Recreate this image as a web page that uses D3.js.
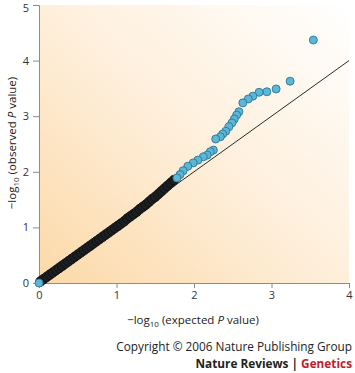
<!DOCTYPE html>
<html>
<head>
<meta charset="utf-8">
<script src="https://cdn.jsdelivr.net/npm/d3@7"></script>
<style>
  body { margin: 0; background: #fff; }
  svg { display: block; font-family: "Open Sans", sans-serif; }
</style>
</head>
<body>
<div id="chart"></div>
<script>
// dense part of the QQ plot (overlapping points, appears as a dark band)
var bandExpected = [0.02, 0.06, 0.10, 0.14, 0.18, 0.22, 0.26, 0.30, 0.34, 0.38, 0.42, 0.46, 0.50,
  0.54, 0.58, 0.62, 0.66, 0.70, 0.74, 0.78, 0.82, 0.86, 0.90, 0.94, 0.98, 1.02, 1.06, 1.10,
  1.14, 1.18, 1.22, 1.26, 1.30, 1.34, 1.38, 1.42, 1.46, 1.50, 1.54, 1.58, 1.62, 1.66, 1.70, 1.74];
var bandObserved = [0.03, 0.07, 0.11, 0.15, 0.19, 0.23, 0.27, 0.31, 0.35, 0.39, 0.43, 0.47, 0.51,
  0.55, 0.59, 0.63, 0.67, 0.71, 0.75, 0.79, 0.83, 0.87, 0.91, 0.95, 0.99, 1.03, 1.07, 1.11,
  1.16, 1.20, 1.24, 1.28, 1.33, 1.37, 1.41, 1.46, 1.51, 1.55, 1.60, 1.65, 1.70, 1.75, 1.80, 1.85];

// sparse tail of the QQ plot (distinct blue points)
var tailExpected = [0.00, 1.78, 1.82, 1.86, 1.92, 1.99, 2.05, 2.12, 2.17, 2.21, 2.25, 2.28, 2.34, 2.37,
  2.41, 2.45, 2.49, 2.52, 2.55, 2.58, 2.63, 2.70, 2.76, 2.84, 2.94, 3.06, 3.24, 3.54];
var tailObserved = [0.00, 1.89, 1.95, 2.02, 2.10, 2.16, 2.21, 2.27, 2.30, 2.36, 2.39, 2.59, 2.63, 2.68,
  2.73, 2.81, 2.88, 2.95, 3.02, 3.08, 3.24, 3.31, 3.36, 3.43, 3.44, 3.49, 3.63, 4.37];

var xTicks = [0, 1, 2, 3, 4];
var yTicks = [0, 1, 2, 3, 4, 5];

var W = 355, H = 373;
var svg = d3.select("#chart").append("svg")
  .attr("width", W).attr("height", H);

var x = d3.scaleLinear().domain([0, 4]).range([39, 349]);
var y = d3.scaleLinear().domain([0, 5]).range([283, 5]);

// background gradient
var defs = svg.append("defs");
var grad = defs.append("linearGradient").attr("id", "bg")
  .attr("x1", 0).attr("y1", 1).attr("x2", 1).attr("y2", 0);
grad.append("stop").attr("offset", 0).attr("stop-color", "#fcd9a8");
grad.append("stop").attr("offset", 0.5).attr("stop-color", "#feefdb");
grad.append("stop").attr("offset", 1).attr("stop-color", "#ffffff");

svg.append("rect")
  .attr("x", x(0)).attr("y", y(5))
  .attr("width", x(4) - x(0)).attr("height", y(0) - y(5))
  .attr("fill", "url(#bg)");

// axes
var xAxis = svg.append("g")
  .attr("transform", "translate(0," + y(0) + ")")
  .call(d3.axisBottom(x).tickValues(xTicks).tickSize(5).tickPadding(3).tickFormat(d3.format("d")));
var yAxis = svg.append("g")
  .attr("transform", "translate(" + x(0) + ",0)")
  .call(d3.axisLeft(y).tickValues(yTicks).tickSize(6).tickPadding(4).tickFormat(d3.format("d")));

[xAxis, yAxis].forEach(function (a) {
  a.select(".domain").attr("stroke", "#8c8c8c");
  a.selectAll(".tick line").attr("stroke", "#8c8c8c");
  a.selectAll(".tick text").attr("fill", "#333").style("font-size", "11px")
    .style("font-family", "Open Sans, sans-serif");
});
// top label sits a little below its tick so it stays inside the frame
yAxis.selectAll(".tick text").filter(function (d) { return d === 5; }).attr("dy", "0.62em");

// y = x reference line
svg.append("line")
  .attr("x1", x(0)).attr("y1", y(0))
  .attr("x2", x(4)).attr("y2", y(4))
  .attr("stroke", "#2a2a2a").attr("stroke-width", 1);

// dense band
svg.append("g").selectAll("circle")
  .data(d3.range(bandExpected.length))
  .join("circle")
  .attr("cx", function (i) { return x(bandExpected[i]); })
  .attr("cy", function (i) { return y(bandObserved[i]); })
  .attr("r", 4.8)
  .attr("fill", "#1c1f22")
  .attr("stroke", "#0e0e0e")
  .attr("stroke-width", 0.8);

// sparse tail (origin point drawn last so it sits on top)
var tailOrder = d3.range(tailExpected.length).reverse();
svg.append("g").selectAll("circle")
  .data(tailOrder)
  .join("circle")
  .attr("cx", function (i) { return x(tailExpected[i]); })
  .attr("cy", function (i) { return y(tailObserved[i]); })
  .attr("r", 4)
  .attr("fill", "#5bb6d7")
  .attr("stroke", "#2a7795")
  .attr("stroke-width", 0.9);

// axis titles
var xt = svg.append("text")
  .attr("x", 193).attr("y", 324)
  .attr("text-anchor", "middle")
  .attr("fill", "#222")
  .style("font-size", "11.5px");
xt.append("tspan").text("\u2212log");
xt.append("tspan").attr("dy", 3).style("font-size", "8px").text("10");
xt.append("tspan").attr("dy", -3).text(" (expected ");
xt.append("tspan").style("font-style", "italic").text("P");
xt.append("tspan").text(" value)");

var yt = svg.append("text")
  .attr("transform", "translate(16,143) rotate(-90)")
  .attr("text-anchor", "middle")
  .attr("fill", "#222")
  .style("font-size", "11.5px");
yt.append("tspan").text("\u2212log");
yt.append("tspan").attr("dy", 3).style("font-size", "8px").text("10");
yt.append("tspan").attr("dy", -3).text(" (observed ");
yt.append("tspan").style("font-style", "italic").text("P");
yt.append("tspan").text(" value)");

// credit
svg.append("text")
  .attr("x", 352).attr("y", 351)
  .attr("text-anchor", "end")
  .attr("fill", "#222")
  .style("font-size", "11.8px")
  .text("Copyright \u00a9 2006 Nature Publishing Group");

var cr = svg.append("text")
  .attr("x", 352).attr("y", 368)
  .attr("text-anchor", "end")
  .style("font-size", "11.8px")
  .style("font-weight", "bold");
cr.append("tspan").attr("fill", "#222").text("Nature Reviews | ");
cr.append("tspan").attr("fill", "#c0202e").text("Genetics");
</script>
</body>
</html>
